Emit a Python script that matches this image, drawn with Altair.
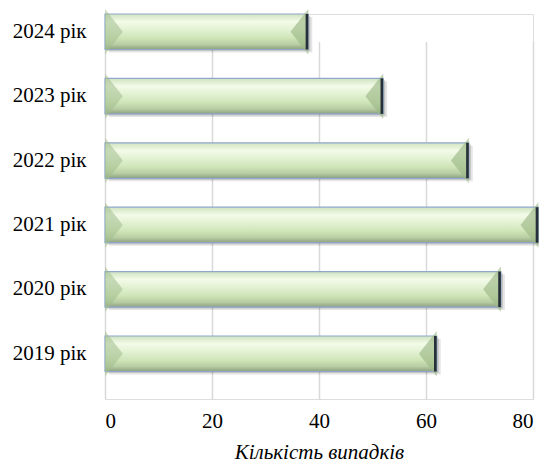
import altair as alt
import pandas as pd

years = ["2024 рік", "2023 рік", "2022 рік", "2021 рік", "2020 рік", "2019 рік"]
cases = [38, 52, 68, 81, 74, 62]
ticks = [0, 20, 40, 60, 80]

df = pd.DataFrame({"year": years, "cases": cases})

FONT = "Liberation Serif"

x_enc = alt.X(
    "cases:Q",
    scale=alt.Scale(domain=[0, 80], nice=False),
    axis=alt.Axis(
        values=ticks, grid=True, gridColor="#d9d9d9", gridWidth=1.5,
        domain=False, ticks=False, labelFont=FONT, labelFontSize=21,
        labelColor="#000000", labelPadding=11,
        title="Кількість випадків", titleFont=FONT, titleFontSize=21,
        titleFontStyle="italic", titleFontWeight="normal", titleColor="#000000",
        titlePadding=10,
    ),
)
y_enc = alt.Y(
    "year:N",
    sort=years,
    scale=alt.Scale(range=[0, 357.5], paddingInner=0.449, paddingOuter=0),
    axis=alt.Axis(
        domain=False, ticks=False, labelFont=FONT, labelFontSize=21,
        labelColor="#000000", labelPadding=19, title=None,
    ),
)

base = alt.Chart(df)

shadow1 = base.mark_bar(xOffset=4, yOffset=3, color="#000000", opacity=0.10).encode(x=x_enc, y=y_enc)
shadow2 = base.mark_bar(xOffset=2, yOffset=1.5, color="#000000", opacity=0.15).encode(x=x_enc, y=y_enc)

main = base.mark_bar(
    color=alt.Gradient(
        gradient="linear", x1=0, y1=0, x2=0, y2=1,
        stops=[
            alt.GradientStop(color="#cfe3c0", offset=0.0),
            alt.GradientStop(color="#f3fbe8", offset=0.22),
            alt.GradientStop(color="#e2f1d2", offset=0.45),
            alt.GradientStop(color="#cfe5b8", offset=0.68),
            alt.GradientStop(color="#b7cda2", offset=0.86),
            alt.GradientStop(color="#8e9f80", offset=1.0),
        ],
    ),
    stroke="#8ea8cc", strokeWidth=1.2,
).encode(x=x_enc, y=y_enc)

left_tri = base.transform_calculate(zero="0").mark_point(
    shape="M 0 -0.96 L 0.75 0 L 0 0.96 Z", size=2250, filled=True,
    color="#a3bd8e", opacity=0.55, strokeWidth=0,
).encode(x=alt.X("zero:Q"), y=y_enc)

right_tri = base.mark_point(
    shape="M 0 -0.96 L -0.75 0 L 0 0.96 Z", size=2250, filled=True,
    color="#9db887", opacity=0.65, strokeWidth=0,
).encode(x=x_enc, y=y_enc)

edge = base.transform_calculate(xe="datum.cases - 0.5").mark_bar(
    color="#27303a"
).encode(x=alt.X("xe:Q"), x2="cases:Q", y=y_enc)

chart = alt.layer(shadow1, shadow2, main, left_tri, right_tri, edge).properties(
    width=428, height=385,
    padding={"left": 97, "top": 6, "right": 6, "bottom": 64},
    autosize=alt.AutoSizeParams(type="none"),
).configure_view(stroke=None).configure(background="white")

chart.save("out.html", embed_options={"renderer": "svg", "actions": False})
